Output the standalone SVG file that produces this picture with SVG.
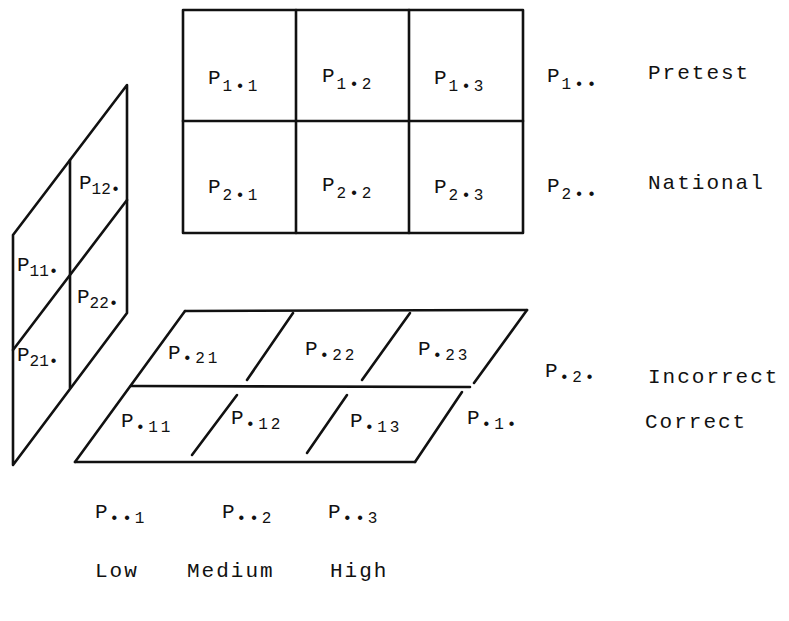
<svg xmlns="http://www.w3.org/2000/svg" width="789" height="621" viewBox="0 0 789 621">
<style>
.ln{stroke:#111;stroke-width:2.6;fill:none;stroke-linecap:round;stroke-linejoin:round}
.t{font-family:"Liberation Mono","DejaVu Sans Mono",monospace;font-size:21px;fill:#111;letter-spacing:2px}
.s{font-size:16px;letter-spacing:3px}
.n{letter-spacing:0px}
</style>
<rect width="789" height="621" fill="#fff"/>
<g id="connectors">
<g id="top-grid">
<rect class="ln" x="183" y="10" width="340" height="223"/>
<line class="ln" x1="183" y1="121" x2="523" y2="121"/>
<line class="ln" x1="296" y1="10" x2="296" y2="233"/>
<line class="ln" x1="409" y1="10" x2="409" y2="233"/>
</g>
<g id="left-panel">
<polygon class="ln" points="13,235 127,85 127,313 13,465"/>
<line class="ln" x1="70" y1="160" x2="70" y2="388"/>
<line class="ln" x1="13" y1="350" x2="127" y2="200"/>
</g>
<g id="bottom-panel">
<line class="ln" x1="185" y1="311" x2="527" y2="310"/>
<line class="ln" x1="185" y1="311" x2="75" y2="462"/>
<line class="ln" x1="75" y1="462" x2="415" y2="462"/>
<line class="ln" x1="527" y1="310" x2="474" y2="383"/>
<line class="ln" x1="462" y1="392" x2="415" y2="462"/>
<line class="ln" x1="131" y1="386" x2="470" y2="387"/>
<line class="ln" x1="293" y1="313" x2="247" y2="380"/>
<line class="ln" x1="410" y1="313" x2="362" y2="380"/>
<line class="ln" x1="237" y1="395" x2="192" y2="455"/>
<line class="ln" x1="347" y1="395" x2="307" y2="453"/>
</g>
</g>
<g id="cell-p1-1"><text class="t" x="208" y="84">P<tspan class="s" dy="7">1•1</tspan></text></g>
<g id="cell-p1-2"><text class="t" x="322" y="82">P<tspan class="s" dy="7">1•2</tspan></text></g>
<g id="cell-p1-3"><text class="t" x="434" y="84">P<tspan class="s" dy="7">1•3</tspan></text></g>
<g id="cell-p2-1"><text class="t" x="208" y="193">P<tspan class="s" dy="7">2•1</tspan></text></g>
<g id="cell-p2-2"><text class="t" x="322" y="191">P<tspan class="s" dy="7">2•2</tspan></text></g>
<g id="cell-p2-3"><text class="t" x="434" y="193">P<tspan class="s" dy="7">2•3</tspan></text></g>
<g id="marg-p1"><text class="t" x="547" y="82">P<tspan class="s" dy="7">1••</tspan></text></g>
<g id="marg-p2"><text class="t" x="547" y="192">P<tspan class="s" dy="7">2••</tspan></text></g>
<g id="label-pretest"><text class="t" x="648" y="79">Pretest</text></g>
<g id="label-national"><text class="t" x="648" y="189">National</text></g>
<g id="cell-p12"><text class="t n" x="79" y="189">P<tspan class="s n" dy="5">12•</tspan></text></g>
<g id="cell-p11"><text class="t n" x="17" y="271">P<tspan class="s n" dy="5">11•</tspan></text></g>
<g id="cell-p22"><text class="t n" x="77" y="303">P<tspan class="s n" dy="5">22•</tspan></text></g>
<g id="cell-p21"><text class="t n" x="17" y="361">P<tspan class="s n" dy="5">21•</tspan></text></g>
<g id="cell-p-21"><text class="t" x="168" y="359">P<tspan class="s" dy="4">•21</tspan></text></g>
<g id="cell-p-22"><text class="t" x="305" y="355">P<tspan class="s" dy="5">•22</tspan></text></g>
<g id="cell-p-23"><text class="t" x="418" y="355">P<tspan class="s" dy="5">•23</tspan></text></g>
<g id="marg-p-2"><text class="t" x="545" y="377">P<tspan class="s" dy="5">•2•</tspan></text></g>
<g id="label-incorrect"><text class="t" x="648" y="383">Incorrect</text></g>
<g id="cell-p-11"><text class="t" x="121" y="427">P<tspan class="s" dy="5">•11</tspan></text></g>
<g id="cell-p-12"><text class="t" x="231" y="424">P<tspan class="s" dy="5">•12</tspan></text></g>
<g id="cell-p-13"><text class="t" x="350" y="427">P<tspan class="s" dy="5">•13</tspan></text></g>
<g id="marg-p-1"><text class="t" x="467" y="424">P<tspan class="s" dy="5">•1•</tspan></text></g>
<g id="label-correct"><text class="t" x="645" y="428">Correct</text></g>
<g id="marg-pp1"><text class="t" x="95" y="518">P<tspan class="s" dy="5">••1</tspan></text></g>
<g id="marg-pp2"><text class="t" x="222" y="518">P<tspan class="s" dy="5">••2</tspan></text></g>
<g id="marg-pp3"><text class="t" x="328" y="518">P<tspan class="s" dy="5">••3</tspan></text></g>
<g id="label-low"><text class="t" x="95" y="577">Low</text></g>
<g id="label-medium"><text class="t" x="187" y="577">Medium</text></g>
<g id="label-high"><text class="t" x="330" y="577">High</text></g>
</svg>
